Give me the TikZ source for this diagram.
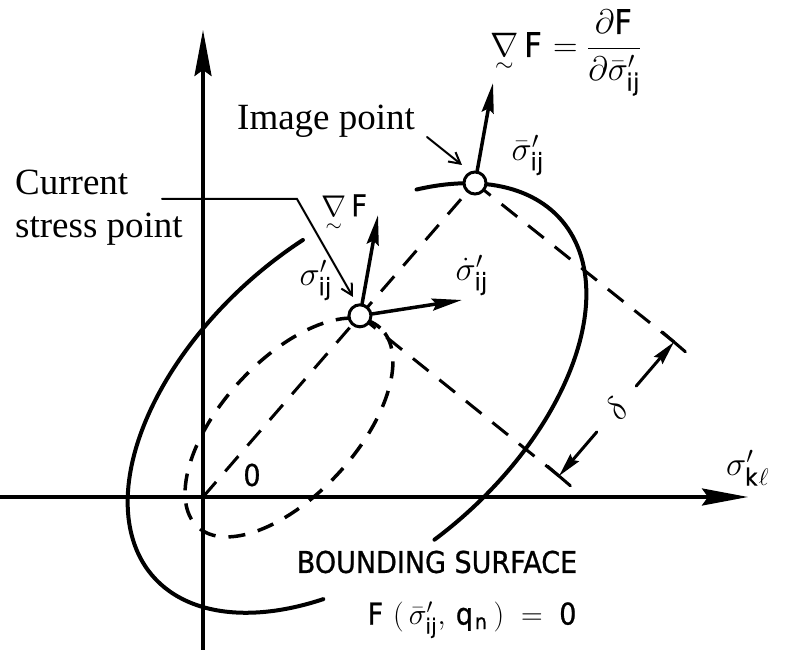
\RequirePackage{fix-cm}
\documentclass[tikz,border=0pt]{standalone}
\usepackage{amsmath}
\usepackage{fontspec}
\setmainfont{Liberation Serif}
\setsansfont[FakeStretch=0.9,FakeBold=0.8]{DejaVu Sans}
\usetikzlibrary{arrows.meta,calc}

\begin{document}
\begin{tikzpicture}[x=1pt,y=1pt,line cap=round,
  axis/.style={line width=3.5pt,-{Stealth[length=46pt,width=17pt,inset=6pt]}},
  surf/.style={line width=4pt},
  loadsurf/.style={line width=3.5pt,line cap=butt,dash pattern=on 17pt off 13pt},
  proj/.style={line width=3pt,line cap=butt,dash pattern=on 20pt off 14pt},
  vec/.style={line width=3.5pt,-{Stealth[length=30pt,width=12pt,inset=4pt]}},
  dimarr/.style={line width=3pt,-{Stealth[length=24pt,width=11pt,inset=3pt]}},
  lead/.style={line width=2pt,-{Straight Barb[length=11pt,width=12pt]}},
  spt/.style={circle,draw,fill=white,line width=3pt,minimum size=22pt,inner sep=0pt},
  sym/.style={inner sep=0pt,font=\fontsize{34}{40}\selectfont},
  word/.style={inner sep=0pt,font=\fontsize{37}{43}\selectfont}]
  \useasboundingbox (0,0) rectangle (792,650);
  \coordinate (O) at (203,153);
  \coordinate (xa) at (0,153);
  \coordinate (xb) at (748,153);
  \coordinate (ya) at (203,0);
  \coordinate (yb) at (203,620);
  \draw[axis] (xa) -- (xb);
  \draw[axis] (ya) -- (yb);
  \begin{scope}[shift={(357,252)},rotate=41.15]
    \draw[surf] (76.5:271 and 159) arc[start angle=76.5,end angle=234.4,x radius=271,y radius=159];
    \draw[surf] (-97.4:271 and 159) arc[start angle=-97.4,end angle=47.8,x radius=271,y radius=159];
  \end{scope}
  \draw[loadsurf,rotate around={47.45:(289,222.5)}] (289,222.5) ellipse[x radius=135,y radius=67.4];
  \coordinate (cI) at (475,467);
  \coordinate (cS) at ($(O)!0.577!(cI)$);
  \coordinate (tS) at (559,174);
  \coordinate (tI) at (674,308);
  \draw[proj] (O) -- (cI);
  \draw[proj] (cS) -- (tS);
  \draw[proj] (cI) -- (tI);
  \draw[line width=3pt] ($(tS)!15pt!90:(tI)$) -- ($(tS)!15pt!-90:(tI)$);
  \draw[line width=3pt] ($(tI)!15pt!90:(tS)$) -- ($(tI)!15pt!-90:(tS)$);
  \node[sym,circle,minimum size=60pt,rotate=49] (dl) at ($(tS)!0.5!(tI)$) {$\delta$};
  \draw[dimarr] (dl) -- (tS);
  \draw[dimarr] (dl) -- (tI);
  \node[spt] (I) at (cI) {};
  \node[spt] (S) at (cS) {};
  \coordinate (gI) at (493,567);
  \coordinate (gS) at (378,435);
  \coordinate (rS) at (462,350);
  \draw[vec] (I) -- (gI);
  \draw[vec] (S) -- (gS);
  \draw[vec] (S) -- (rS);
  \node[sym,anchor=base west] (gradI) at (490,593) {$\underset{\sim}{\nabla}\,\mathsf{F} = \dfrac{\partial\mathsf{F}}{\partial\bar{\sigma}'_{\mathsf{ij}}}$};
  \node[sym] (sbarI) at (528,495) {$\bar{\sigma}'_{\mathsf{ij}}$};
  \node[sym,font=\fontsize{30}{36}\selectfont] (gradS) at (345,436) {$\underset{\sim}{\nabla}\,\mathsf{F}$};
  \node[sym] (sigS) at (316,370) {$\sigma'_{\mathsf{ij}}$};
  \node[sym] (sdotS) at (472,375) {$\dot{\sigma}'_{\mathsf{ij}}$};
  \node[sym,anchor=west] (xlab) at (726,182) {$\sigma'_{\mathsf{k}\ell}$};
  \node[font=\sffamily\fontsize{30}{32}\selectfont] (zero) at (252,175) {0};
  \node[font=\sffamily\fontsize{30}{32}\selectfont] (bs) at (437,88) {BOUNDING SURFACE};
  \node[sym,font=\fontsize{30}{36}\selectfont] (feq) at (473,30) {$\mathsf{F}\;(\,\bar{\sigma}'_{\mathsf{ij}},\,\mathsf{q}_{\mathsf{n}}\,)\;=\;\mathsf{0}$};
  \node[word,anchor=base west] (cur) at (15,455) {Current};
  \node[word,anchor=base west] (cur2) at (15,412) {stress point};
  \node[word,anchor=base west] (img) at (237,520) {Image point};
  \coordinate (cl) at (162,451);
  \coordinate (ck) at (297,451);
  \coordinate (ct) at (353,353);
  \draw[lead] (cl) -- (ck) -- (ct);
  \coordinate (il) at (427,513);
  \coordinate (it) at (462,485);
  \draw[lead] (il) -- (it);
\end{tikzpicture}
\end{document}
